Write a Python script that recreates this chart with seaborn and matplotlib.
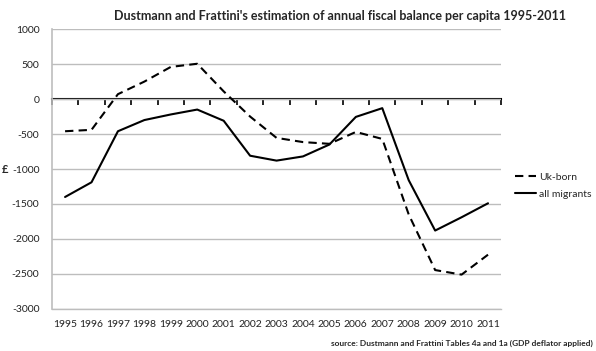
import pandas as pd
import matplotlib.pyplot as plt
import seaborn as sns

# -----------------------------
# Data (GBP per capita)
# -----------------------------
years = list(range(1995, 2012))
uk_born = [-460, -440, 70, 250, 460, 505, 110, -250, -555, -615, -640, -470, -570,
           -1650, -2445, -2510, -2225]
all_migrants = [-1400, -1190, -460, -300, -220, -150, -310, -810, -880, -820, -650,
                -255, -130, -1160, -1880, -1690, -1490]
series_names = ["Uk-born", "all migrants"]

df = pd.DataFrame({"pos": range(len(years)), "Uk-born": uk_born, "all migrants": all_migrants})
df_long = pd.melt(df, id_vars=["pos"], value_vars=series_names, var_name="Series", value_name="Balance")

sns.set_style("white")
plt.rcParams["font.family"] = ["Lato", "DejaVu Sans"]
plt.rcParams["axes.unicode_minus"] = False

fig = plt.figure(figsize=(5.96, 3.51), dpi=100)
ax = fig.add_axes([0.087, 0.120, 0.754, 0.797])

sns.lineplot(
    data=df_long, x="pos", y="Balance", hue="Series", style="Series",
    palette={"Uk-born": "black", "all migrants": "black"},
    dashes={"Uk-born": (4, 2.5), "all migrants": ""},
    linewidth=1.5, ax=ax, legend=True,
)

grid_col = "#BDBDBD"
ax.set_xlim(-0.5, len(years) - 0.5)
ax.set_ylim(-3000, 1000)
ax.set_yticks(range(-3000, 1001, 500))
ax.set_xticks(range(len(years)))
ax.set_xticklabels([str(y) for y in years])
ax.yaxis.grid(True, color=grid_col, linewidth=1)
ax.set_axisbelow(True)
ax.tick_params(axis="x", length=0, pad=8, labelsize=7.5, colors="#222222")
ax.tick_params(axis="y", length=3, width=1, color=grid_col, pad=6, labelsize=7.5, labelcolor="#222222")
for s in ["top", "right"]:
    ax.spines[s].set_visible(False)
ax.spines["left"].set_color(grid_col)
ax.spines["bottom"].set_color(grid_col)
ax.spines["left"].set_linewidth(1.2)
ax.spines["bottom"].set_linewidth(1)

# zero axis line with tick marks between categories
sec = ax.secondary_xaxis(0.75)
sec.set_xticks([i - 0.5 for i in range(len(years) + 1)])
sec.set_xticklabels([])
sec.tick_params(axis="x", length=4, width=1.2, color="black", direction="in")
for s in sec.spines.values():
    s.set_color("black")
    s.set_linewidth(1.5)

ax.set_xlabel("")
ax.set_ylabel("£", rotation=0, fontsize=8, fontweight="bold", va="center", ha="center")
ax.yaxis.set_label_coords(-0.104, 0.5)

leg = ax.legend(title=None, frameon=False, loc="center left", bbox_to_anchor=(1.01, 0.44),
                fontsize=7.5, handlelength=2.0, handletextpad=0.3, labelspacing=0.7)

fig.text(0.57, 0.955, "Dustmann and Frattini's estimation of annual fiscal balance per capita 1995-2011",
         ha="center", va="center", fontsize=9, fontweight="bold")
fig.text(0.995, 0.023, "source: Dustmann and Frattini Tables 4a and 1a (GDP deflator applied)",
         ha="right", va="center", fontsize=6, fontweight="bold")

fig.savefig("out.png", dpi=100)
plt.close(fig)
